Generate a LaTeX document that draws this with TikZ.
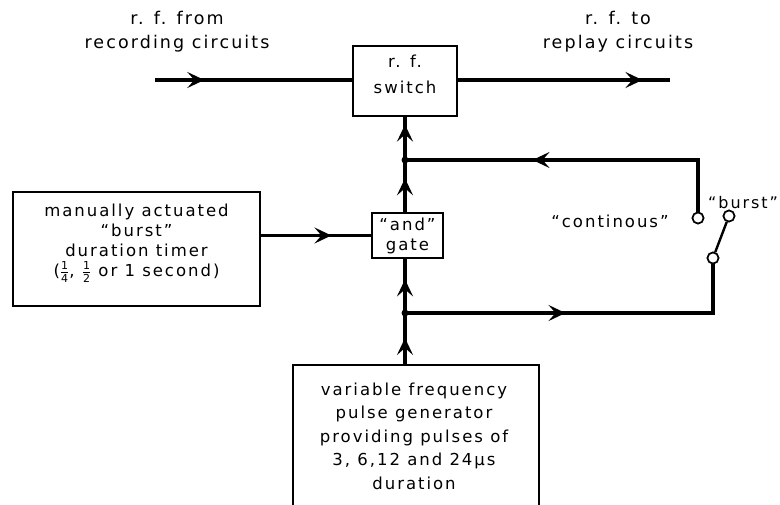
\documentclass[tikz,border=0pt]{standalone}
\usepackage{fontspec}
\setmainfont{DejaVu Sans}[LetterSpace=12]
\usetikzlibrary{arrows.meta,decorations.markings}
\tikzset{
  wire/.style={line width=3.4pt},
  blockbox/.style={draw,line width=1.6pt,inner sep=0pt,align=center,font=\fontsize{16.5}{23}\selectfont},
  lbl/.style={inner sep=0pt,align=center,font=\fontsize{16.5}{23}\selectfont},
  midarrow/.style={postaction={decorate},decoration={markings,mark=at position #1 with {\arrow{Stealth[length=17pt,width=16pt,inset=7pt]}}}},
  contact/.style={circle,draw,fill=white,line width=1.6pt,minimum size=11pt,inner sep=0pt},
  junction/.style={circle,fill=black,minimum size=7pt,inner sep=0pt},
}
\newcommand{\fr}[2]{$\frac{\mbox{\fontsize{11}{11}\selectfont #1}}{\mbox{\fontsize{11}{11}\selectfont #2}}$}
\begin{document}
\begin{tikzpicture}[x=1pt,y=-1pt]
\useasboundingbox (0,0) rectangle (780,504);
% blocks
\node[blockbox,minimum width=104pt,minimum height=70pt] (rfsw) at (405,81) {};
\node[lbl,font=\fontsize{16.5}{26}\selectfont] (rfswtext) at (405,74) {r. f.\\switch};
\node[blockbox,minimum width=71pt,minimum height=45pt,font=\fontsize{16.5}{20}\selectfont] (gate) at (407.5,235.5) {``and''\\gate};
\node[blockbox,minimum width=247pt,minimum height=114pt,font=\fontsize{16.5}{20}\selectfont] (timer) at (136.5,249) {};
\node[lbl,font=\fontsize{16.5}{20}\selectfont] (timertext) at (136.5,243) {manually actuated\\``burst''\\duration timer\\(\fr14, \fr12 or 1 second)};
\begin{scope}
\clip (0,0) rectangle (780,504);
\node[blockbox,minimum width=246pt,minimum height=160pt] (gen) at (416,445) {};
\end{scope}
\node[lbl,font=\fontsize{16.5}{23.5}\selectfont] (gentext) at (414,436) {variable frequency\\pulse generator\\providing pulses of\\3, 6,12 and 24μs\\duration};
% labels
\node[lbl,font=\fontsize{17.5}{24}\selectfont] (inlbl) at (177,32) {r. f. from\\recording circuits};
\node[lbl,font=\fontsize{17.5}{24}\selectfont] (outlbl) at (618,32) {r. f. to\\replay circuits};
\node[lbl] (contlbl) at (610,221) {``continous''};
\node[lbl,font=\fontsize{16}{20}\selectfont] (burstlbl) at (743,203) {``burst''};
% coordinates
\coordinate (in) at (155,80);
\coordinate (out) at (670,80);
\coordinate (jT) at (405,160);
\coordinate (jB) at (405,313);
\coordinate (genN) at (405,365);
\node[contact] (cC) at (698,218) {};
\node[contact] (cB) at (729,216) {};
\node[contact] (piv) at (713,258) {};
% wires
\draw[wire,midarrow=0.25] (in) -- (rfsw.west |- in);
\draw[wire,midarrow=0.87] (rfsw.east |- out) -- (out);
\draw[wire,midarrow=0.64] (timer.east |- gate.west) -- (gate.west);
\draw[wire,midarrow=0.52] (genN) -- (jB);
\draw[wire,midarrow=0.62] (jB) -- (jB |- gate.south);
\draw[wire,midarrow=0.65] (jT |- gate.north) -- (jT);
\draw[wire,midarrow=0.82] (jT) -- (jT |- rfsw.south);
\draw[wire,midarrow=0.63] (cC.north) |- (jT);
\draw[wire,midarrow=0.45] (jB) -| (piv.south);
\draw[line width=2.4pt] (piv) -- (cB);
\node[contact] at (cC) {};
\node[contact] at (cB) {};
\node[contact] at (piv) {};
\node[junction] at (jT) {};
\node[junction] at (jB) {};
\end{tikzpicture}
\end{document}
